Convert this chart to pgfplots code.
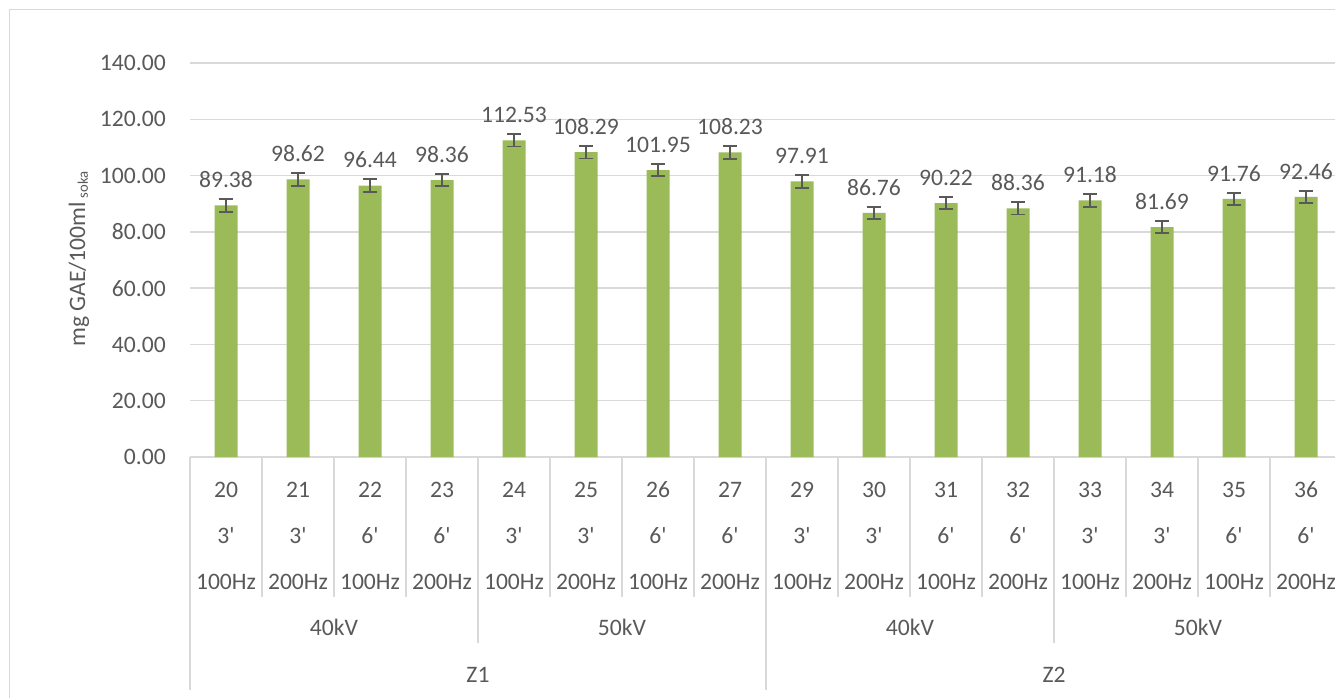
\documentclass[border=0pt]{standalone}
\usepackage{pgfplots}
\pgfplotsset{compat=1.18}
\usepackage{fontspec}
\setmainfont{Carlito}

\definecolor{bargreen}{HTML}{9BBB59}
\definecolor{txt}{HTML}{595959}
\definecolor{grd}{HTML}{D9D9D9}
\newcommand{\lbl}{\fontsize{17.7}{21}\selectfont}

\begin{document}
\begin{tikzpicture}
% picture is cut at the right and bottom, like the reference
\useasboundingbox (0,0) rectangle (1001.25pt,-522.75pt);
\clip (0,0) rectangle (1001.25pt,-522.75pt);

\begin{scope}[x=0.75pt,y=-0.75pt]
  \draw[grd, line width=1pt] (9.5,9.5) rectangle (1400,760);
\end{scope}

\begin{axis}[
    at={(142.5pt,-342.75pt)}, anchor=south west,
    scale only axis, width=864pt, height=295.5pt,
    xmin=-0.5, xmax=15.5, ymin=0, ymax=140,
    ytick={0,20,...,140}, xtick=\empty,
    ymajorgrids, grid style={grd, line width=1pt},
    axis line style={draw=none}, major tick style={draw=none},
    yticklabel style={font=\lbl, color=txt, inner sep=0pt, xshift=-18pt},
    /pgf/number format/.cd, fixed, fixed zerofill, precision=2, assume math mode=true,
    /pgfplots/.cd,
    clip=false,
    nodes near coords,
    nodes near coords style={font=\lbl, color=txt, anchor=center, yshift=19.2pt},
  ]
  \addplot[ybar, bar width=17.25pt, fill=bargreen, draw=none,
    error bars/.cd, y dir=both, y explicit,
    error bar style={color=txt, line width=1.4pt},
    error mark options={rotate=90, mark size=4.9pt, line width=1.4pt, color=txt}]
  coordinates {
    (0,89.38) +- (0,2.2)
    (1,98.62) +- (0,2.2)
    (2,96.44) +- (0,2.2)
    (3,98.36) +- (0,2.2)
    (4,112.53) +- (0,2.2)
    (5,108.29) +- (0,2.2)
    (6,101.95) +- (0,2.2)
    (7,108.23) +- (0,2.2)
    (8,97.91) +- (0,2.2)
    (9,86.76) +- (0,2.2)
    (10,90.22) +- (0,2.2)
    (11,88.36) +- (0,2.2)
    (12,91.18) +- (0,2.2)
    (13,81.69) +- (0,2.2)
    (14,91.76) +- (0,2.2)
    (15,92.46) +- (0,2.2)
  };
\end{axis}

\begin{scope}[x=0.75pt,y=-0.75pt, every node/.style={font=\lbl, text=txt, anchor=base, inner sep=0pt}]
  % y axis title
  \node[rotate=90] at (85,259) {mg GAE/100ml\,\raisebox{-0.25ex}{\fontsize{11}{13}\selectfont soka}};
  % category separators
  \foreach \k in {0,...,16}
    \draw[grd, line width=1pt] (190+72*\k,457) -- (190+72*\k,597);
  \foreach \k in {0,4,8,12,16}
    \draw[grd, line width=1pt] (190+72*\k,597) -- (190+72*\k,643);
  \foreach \k in {0,8,16}
    \draw[grd, line width=1pt] (190+72*\k,643) -- (190+72*\k,690);
  % level 1: sample numbers
  \foreach \n [count=\i from 0] in {20,21,22,23,24,25,26,27,29,30,31,32,33,34,35,36}
    \node at (226+72*\i,497) {\n};
  % level 2: time
  \foreach \t [count=\i from 0] in {3,3,6,6,3,3,6,6,3,3,6,6,3,3,6,6}
    \node at (226+72*\i,543) {\t\textquotesingle};
  % level 3: frequency
  \foreach \f [count=\i from 0] in {100,200,100,200,100,200,100,200,100,200,100,200,100,200,100,200}
    \node at (226+72*\i,589) {\f Hz};
  % level 4: voltage
  \foreach \v [count=\i from 0] in {40,50,40,50}
    \node at (334+288*\i,635.5) {\v kV};
  % level 5: group
  \node at (478,682.5) {Z1};
  \node at (1054,682.5) {Z2};
\end{scope}
\end{tikzpicture}
\end{document}
